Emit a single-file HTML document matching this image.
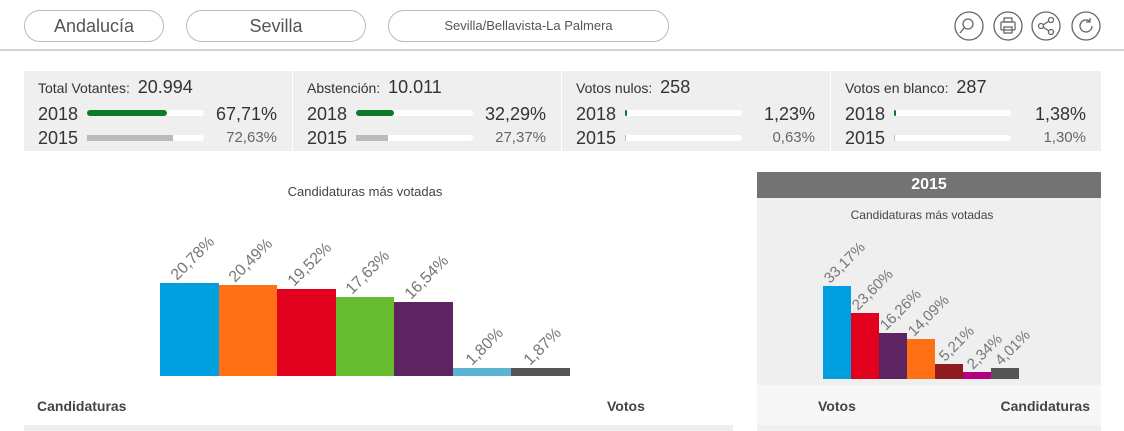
<!DOCTYPE html>
<html><head><meta charset="utf-8"><style>
*{margin:0;padding:0;box-sizing:border-box}
body{width:1124px;height:431px;background:#fff;position:relative;overflow:hidden;font-family:"Liberation Sans",sans-serif;color:#444}
.a{position:absolute}
.pill{position:absolute;top:10px;height:32px;border:1px solid #bbb;border-radius:16px;text-align:center;line-height:30px;color:#555;font-size:18px}
.n{font-family:"Liberation Sans Narrow","Liberation Sans",sans-serif}
.blk{position:absolute;top:71px;height:80px;background:#efefef}
.t{position:absolute;left:14px;top:6px;font-size:14px;color:#333}
.t b{font-weight:normal;font-size:18px;margin-left:4px}
.yr{position:absolute;left:14px;font-size:18px;color:#333}
.tr{position:absolute;left:63px;width:117px;height:6px;background:#fff;border-radius:3px}
.fl{position:absolute;left:0;top:0;height:6px;border-radius:3px}
.pc{position:absolute;right:15px;color:#333}
</style></head><body>
<div class="pill" style="left:24px;width:140px">Andalucía</div>
<div class="pill" style="left:186px;width:180px">Sevilla</div>
<div class="pill" style="left:388px;width:281px;font-size:13px">Sevilla/Bellavista-La Palmera</div>
<svg class="a" style="left:950px;top:8px" width="160" height="36" fill="none" stroke="#666" stroke-width="1.3">
<circle cx="19" cy="18" r="14"/><circle cx="18" cy="16" r="5"/><line x1="14" y1="20" x2="10" y2="25"/>
<circle cx="58" cy="18" r="14"/><rect x="51" y="14" width="14" height="8" rx="1"/><rect x="54" y="10" width="8" height="4"/><rect x="54" y="19" width="8" height="6"/>
<circle cx="96" cy="18" r="14"/><circle cx="91" cy="18" r="2.5"/><circle cx="101" cy="12" r="2.5"/><circle cx="101" cy="24" r="2.5"/><line x1="93" y1="17" x2="99" y2="13"/><line x1="93" y1="19" x2="99" y2="23"/>
<circle cx="136" cy="18" r="14"/><path d="M142 18a6 6 0 1 1 -2 -4.5"/><path d="M140 10v4h-4"/>
</svg>
<div class="a" style="left:0;top:49px;width:1124px;height:2px;background:#d4d4d4"></div>

<div class="blk" style="left:24px;width:268px"><div class="t n">Total Votantes: <b style="font-family:'Liberation Sans'">20.994</b></div>
<div class="yr" style="top:33px">2018</div><div class="tr" style="top:39px"><div class="fl" style="width:80px;background:#0a7a27"></div></div><div class="pc" style="top:33px;font-size:18px">67,71%</div>
<div class="yr" style="top:57px">2015</div><div class="tr" style="top:64px"><div class="fl" style="width:86px;background:#bbb;border-radius:0"></div></div><div class="pc" style="top:58px;font-size:15px;color:#666">72,63%</div></div>
<div class="blk" style="left:293px;width:268px"><div class="t n">Abstención: <b style="font-family:'Liberation Sans'">10.011</b></div>
<div class="yr" style="top:33px">2018</div><div class="tr" style="top:39px"><div class="fl" style="width:38px;background:#0a7a27"></div></div><div class="pc" style="top:33px;font-size:18px">32,29%</div>
<div class="yr" style="top:57px">2015</div><div class="tr" style="top:64px"><div class="fl" style="width:32px;background:#bbb;border-radius:0"></div></div><div class="pc" style="top:58px;font-size:15px;color:#666">27,37%</div></div>
<div class="blk" style="left:562px;width:268px"><div class="t n">Votos nulos: <b style="font-family:'Liberation Sans'">258</b></div>
<div class="yr" style="top:33px">2018</div><div class="tr" style="top:39px"><div class="fl" style="width:2px;background:#0a7a27"></div></div><div class="pc" style="top:33px;font-size:18px">1,23%</div>
<div class="yr" style="top:57px">2015</div><div class="tr" style="top:64px"><div class="fl" style="width:1px;background:#bbb"></div></div><div class="pc" style="top:58px;font-size:15px;color:#666">0,63%</div></div>
<div class="blk" style="left:831px;width:270px"><div class="t n">Votos en blanco: <b style="font-family:'Liberation Sans'">287</b></div>
<div class="yr" style="top:33px">2018</div><div class="tr" style="top:39px"><div class="fl" style="width:2px;background:#0a7a27"></div></div><div class="pc" style="top:33px;font-size:18px">1,38%</div>
<div class="yr" style="top:57px">2015</div><div class="tr" style="top:64px"><div class="fl" style="width:1px;background:#bbb"></div></div><div class="pc" style="top:58px;font-size:15px;color:#666">1,30%</div></div>

<svg class="a" style="left:0;top:160px" width="750" height="271" font-family="Liberation Sans, sans-serif">
<text x="365" y="36" text-anchor="middle" font-size="13" fill="#444" font-family="Liberation Sans Narrow, Liberation Sans, sans-serif">Candidaturas más votadas</text>
<g font-size="16" fill="#777">
<rect x="160" y="123" width="59" height="93" fill="#009fe0"/><text transform="translate(177,121) rotate(-45)">20,78%</text>
<rect x="219" y="125" width="58" height="91" fill="#ff6f14"/><text transform="translate(235,123) rotate(-45)">20,49%</text>
<rect x="277" y="129" width="59" height="87" fill="#e2001f"/><text transform="translate(294,127) rotate(-45)">19,52%</text>
<rect x="336" y="137" width="58" height="79" fill="#66bb2e"/><text transform="translate(352,135) rotate(-45)">17,63%</text>
<rect x="394" y="142" width="59" height="74" fill="#5e2461"/><text transform="translate(411,140) rotate(-45)">16,54%</text>
<rect x="453" y="208" width="58" height="8" fill="#5ab4d2"/><text transform="translate(472,206) rotate(-45)">1,80%</text>
<rect x="511" y="208" width="59" height="8" fill="#555"/><text transform="translate(530,206) rotate(-45)">1,87%</text>
</g>
<text x="37" y="251" font-size="14" font-weight="bold" fill="#444" font-family="Liberation Sans Narrow, Liberation Sans, sans-serif">Candidaturas</text>
<text x="607" y="251" font-size="14" font-weight="bold" fill="#444" font-family="Liberation Sans Narrow, Liberation Sans, sans-serif">Votos</text>
<rect x="24" y="265" width="709" height="6" fill="#efefef"/>
</svg>

<div class="a" style="left:757px;top:172px;width:344px;height:26px;background:#737373;color:#fff;font-size:16px;font-weight:bold;text-align:center;line-height:26px">2015</div>
<div class="a" style="left:757px;top:198px;width:344px;height:187px;background:#efefef"></div>
<div class="a" style="left:757px;top:385px;width:344px;height:40px;background:#f7f7f7"></div>
<div class="a" style="left:757px;top:425px;width:344px;height:6px;background:#efefef"></div>
<svg class="a" style="left:757px;top:198px" width="344" height="233" font-family="Liberation Sans, sans-serif">
<text x="165" y="21" text-anchor="middle" font-size="12" fill="#444" font-family="Liberation Sans Narrow, Liberation Sans, sans-serif">Candidaturas más votadas</text>
<g font-size="15" fill="#777">
<rect x="66" y="88" width="28" height="93" fill="#009fe0"/><text transform="translate(73,86) rotate(-45)">33,17%</text>
<rect x="94" y="115" width="28" height="66" fill="#e2001f"/><text transform="translate(101,113) rotate(-45)">23,60%</text>
<rect x="122" y="135" width="28" height="46" fill="#5e2461"/><text transform="translate(129,133) rotate(-45)">16,26%</text>
<rect x="150" y="141" width="28" height="40" fill="#ff6f14"/><text transform="translate(157,139) rotate(-45)">14,09%</text>
<rect x="178" y="166" width="28" height="15" fill="#8e1b1f"/><text transform="translate(188,164) rotate(-45)">5,21%</text>
<rect x="206" y="174" width="28" height="7" fill="#b5007f"/><text transform="translate(216,172) rotate(-45)">2,34%</text>
<rect x="234" y="170" width="28" height="11" fill="#555"/><text transform="translate(244,168) rotate(-45)">4,01%</text>
</g>
<text x="61" y="213" font-size="14" font-weight="bold" fill="#444" font-family="Liberation Sans Narrow, Liberation Sans, sans-serif">Votos</text>
<text x="333" y="213" text-anchor="end" font-size="14" font-weight="bold" fill="#444" font-family="Liberation Sans Narrow, Liberation Sans, sans-serif">Candidaturas</text>
</svg>
</body></html>
